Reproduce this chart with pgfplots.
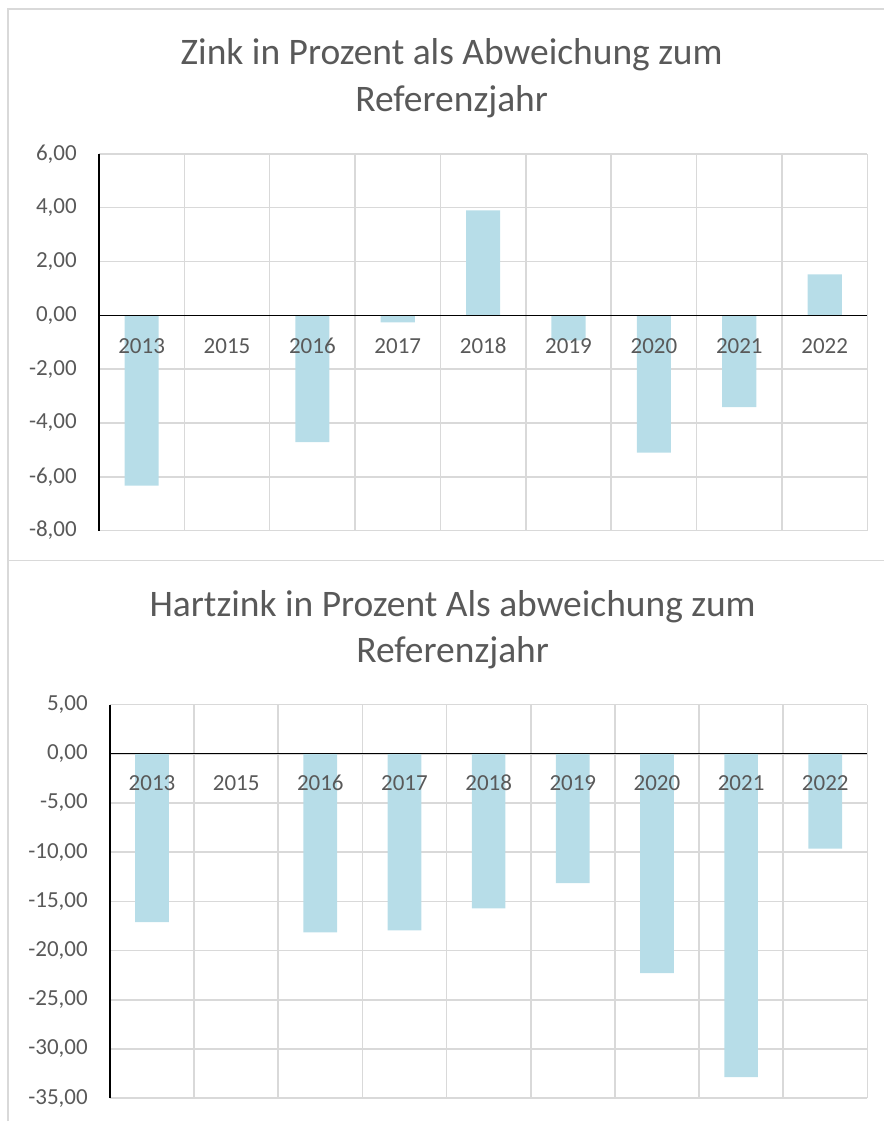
\documentclass[border=0pt]{standalone}
\usepackage{fontspec}
\setmainfont{Carlito}
\usepackage{pgfplots}
\pgfplotsset{compat=1.18}
\definecolor{barblue}{HTML}{B7DDE8}
\definecolor{gridgray}{HTML}{D9D9D9}
\definecolor{txtgray}{HTML}{595959}
\pgfplotsset{
  excelbase/.style={
    scale only axis,
    anchor=south west,
    xmin=-0.5, xmax=8.5,
    axis x line=middle, axis y line=left,
    xtick={0,...,8},
    minor xtick={0.5,1.5,...,8.5},
    major tick length=0pt, minor tick length=0pt,
    hide obscured x ticks=false, hide obscured y ticks=false,
  },
  excelgrid/.style={
    excelbase,
    axis line style={draw=none},
    xticklabels={}, yticklabels={},
    xminorgrids=true, ymajorgrids=true,
    major grid style={gridgray, line width=1.6pt},
    minor grid style={gridgray, line width=1.6pt},
    ybar, bar width=0.4, bar shift=0pt,
  },
  excelaxes/.style={
    excelbase,
    axis line style={black, line width=1.3pt, -},
    xticklabels={2013,2015,2016,2017,2018,2019,2020,2021,2022},
    tick label style={font=\fontsize{23}{27}\selectfont, text=txtgray},
    yticklabel style={inner sep=0pt, anchor=east, xshift=-22pt,
      /pgf/number format/.cd, fixed, fixed zerofill, precision=2, use comma},
    /pgf/number format/assume math mode=true,
  },
}
\begin{document}
\begin{tikzpicture}
\path (0pt,0pt) rectangle (885pt,1122pt);
% chart frames
\draw[gridgray, line width=1.6pt] (8pt,0pt) -- (8pt,1113pt) -- (885pt,1113pt);
\draw[gridgray, line width=1.6pt] (8pt,561pt) -- (885pt,561pt);
% titles
\node[anchor=base, text=txtgray, font=\fontsize{37.5}{45}\selectfont] at (452pt,1057pt) {Zink in Prozent als Abweichung zum};
\node[anchor=base, text=txtgray, font=\fontsize{37.5}{45}\selectfont] at (452pt,1010pt) {Referenzjahr};
\node[anchor=base, text=txtgray, font=\fontsize{37.5}{45}\selectfont] at (453pt,505pt) {Hartzink in Prozent Als abweichung zum};
\node[anchor=base, text=txtgray, font=\fontsize{37.5}{45}\selectfont] at (453pt,459pt) {Referenzjahr};

% ---- Zink: grid and bars
\begin{axis}[excelgrid,
  at={(99pt,591pt)}, width=769pt, height=377pt,
  ymin=-8, ymax=6, ytick={-8,-6,...,6},
]
\addplot[fill=barblue, draw=none] coordinates {
 (0,-6.33) (1,0) (2,-4.71) (3,-0.26) (4,3.90) (5,-0.93) (6,-5.10) (7,-3.41) (8,1.52)
};
\end{axis}
% ---- Zink: axis lines and labels on top
\begin{axis}[excelaxes,
  at={(99pt,591pt)}, width=769pt, height=377pt,
  ymin=-8, ymax=6, ytick={-8,-6,...,6},
  xticklabel style={inner sep=0pt, anchor=base, yshift=-38.5pt},
]
\end{axis}

% ---- Hartzink: grid and bars
\begin{axis}[excelgrid,
  at={(110pt,23pt)}, width=758pt, height=394pt,
  ymin=-35, ymax=5, ytick={-35,-30,...,5},
]
\addplot[fill=barblue, draw=none] coordinates {
 (0,-17.10) (1,0) (2,-18.16) (3,-17.95) (4,-15.72) (5,-13.14) (6,-22.29) (7,-32.86) (8,-9.65)
};
\end{axis}
% ---- Hartzink: axis lines and labels on top
\begin{axis}[excelaxes,
  at={(110pt,23pt)}, width=758pt, height=394pt,
  ymin=-35, ymax=5, ytick={-35,-30,...,5},
  xticklabel style={inner sep=0pt, anchor=base, yshift=-37pt},
]
\end{axis}
\end{tikzpicture}
\end{document}
